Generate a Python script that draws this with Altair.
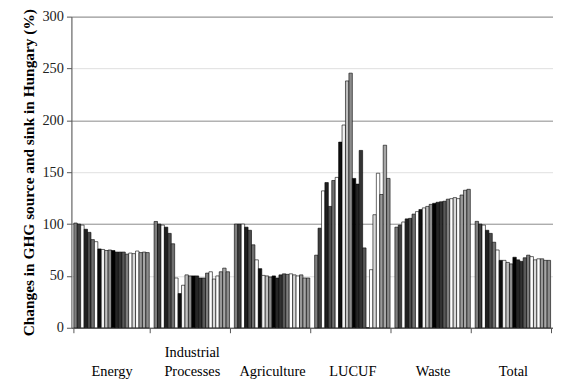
import altair as alt
import pandas as pd

groups = ["Energy", "Industrial Processes", "Agriculture", "LUCUF", "Waste", "Total"]
years = [str(y) for y in range(1985, 2007)]

energy = [101, 100, 99, 95, 92, 85, 83, 76, 75.5, 74.5, 75, 74.5, 73, 73, 73, 71, 72, 71.5, 74, 72.5, 73, 72.5]
industrial = [102.5, 100, 99, 97, 91, 81, 48, 33, 41, 51, 50, 50, 50, 48, 48, 52.7, 54, 47, 50, 54, 57.5, 54]
agriculture = [100, 100, 100, 97, 94, 80, 65.5, 57, 50.5, 50, 49, 50, 48, 51, 52, 51.5, 52, 51, 50, 51, 48, 48]
lucuf = [70, 96, 132, 140, 117, 142, 145, 179, 195.5, 238, 245.5, 144, 138.5, 171, 77, 0, 56, 109, 149, 128.5, 176, 144]
waste = [97, 99, 102, 105, 105.5, 109.6, 112, 114, 115.6, 117, 119, 120, 121, 121.5, 122, 124, 124.5, 125.5, 124.5, 128, 132.6, 133.5]
total = [102.6, 100, 99, 94, 91, 82.5, 75, 65, 65, 63, 61.6, 68, 65.5, 64, 67.5, 70, 68.6, 65.5, 66.5, 66.5, 65, 65]

colors = ["#7f7f7f", "#3f3f3f", "#ffffff", "#1f1f1f", "#4c4c4c", "#6f6f6f",
          "#ffffff", "#0d0d0d", "#f2f2f2", "#bfbfbf", "#8c8c8c", "#000000",
          "#262626", "#333333", "#595959", "#808080", "#ffffff", "#d9d9d9",
          "#ffffff", "#999999", "#a6a6a6", "#8c8c8c"]

series = [energy, industrial, agriculture, lucuf, waste, total]
rows = []
for g, vals in zip(groups, series):
    for y, v in zip(years, vals):
        rows.append({"group": g, "year": y, "value": v})
df = pd.DataFrame(rows)

font = "Liberation Serif"

chart = alt.Chart(df).mark_bar(stroke="#000000", strokeWidth=0.6).encode(
    x=alt.X("group:N", sort=groups,
            scale=alt.Scale(paddingInner=0.06, paddingOuter=0.03),
            axis=alt.Axis(title=None, labelAngle=0, tickBand="extent",
                          labelExpr="datum.label == 'Industrial Processes' ? ['Industrial', 'Processes'] : ['', datum.label]",
                          labelBaseline="top", labelPadding=13, labelFont=font,
                          labelFontSize=14.5, labelColor="#000000", labelLineHeight=19,
                          domainColor="#555555", tickColor="#555555", tickSize=5,
                          grid=False)),
    xOffset=alt.XOffset("year:N", sort=years),
    y=alt.Y("value:Q", scale=alt.Scale(domain=[0, 300], nice=False),
            axis=alt.Axis(title="Changes in GHG source and sink in Hungary (%)",
                          values=[0, 50, 100, 150, 200, 250, 300],
                          titleFont=font, titleFontSize=15.5, titleFontWeight="bold",
                          titleColor="#000000", titlePadding=6,
                          labelFont=font, labelFontSize=14.5, labelColor="#222222",
                          labelPadding=3, tickSize=5, tickColor="#555555",
                          domainColor="#555555",
                          gridColor={"condition": {"test": "datum.value % 100 === 0", "value": "#8a8a8a"}, "value": "#e0e0e0"},
                          gridWidth=1)),
    color=alt.Color("year:N", sort=years, scale=alt.Scale(domain=years, range=colors), legend=None),
).properties(
    width=486, height=314,
    autosize=alt.AutoSizeParams(type="none"),
    padding={"left": 64, "top": 7, "right": 0, "bottom": 50},
).configure_view(stroke=None).configure(background="#ffffff")

chart.save("out.html", embed_options={"renderer": "svg", "actions": False})
